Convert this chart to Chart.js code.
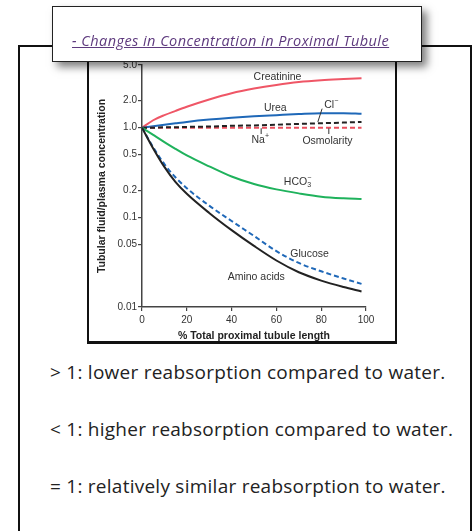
<!DOCTYPE html>
<html>
<head>
<meta charset="utf-8">
<script src="https://cdn.jsdelivr.net/npm/chart.js@4.4.0/dist/chart.umd.min.js"></script>
<style>
  html, body { margin: 0; padding: 0; background: #fff; width: 476px; height: 531px; overflow: hidden; }
  body { position: relative; }
  #outer { position: absolute; left: 18px; top: 45px; width: 454px; height: 700px; border: 2px solid #111; box-sizing: border-box; }
  #frame { position: absolute; left: 87px; top: 50px; width: 310px; height: 294px; border: 2px solid #111; border-bottom-width: 3px; box-sizing: border-box; background: #fff; }
  #chartWrap { position: absolute; left: 89px; top: 42px; width: 305px; height: 299px; }
  #card { position: absolute; left: 52px; top: 6px; width: 370px; height: 56px; border: 1.5px solid #222; box-sizing: border-box; background: #fff; box-shadow: 5px 5px 8px rgba(0,0,0,0.5); }
  #card span { position: absolute; left: 19px; top: 25px; font: italic 14.5px "Open Sans"; letter-spacing: 0.45px; color: #5e3a7e; text-decoration: underline; white-space: nowrap; line-height: 18px; }
  .note { position: absolute; left: 50px; font: 19px "Open Sans"; letter-spacing: 0.25px; color: #222; white-space: nowrap; line-height: 22px; }
</style>
</head>
<body>
<div id="outer"></div>
<div id="frame"></div>
<div id="chartWrap"><canvas id="tubuleChart" width="305" height="299"></canvas></div>
<div id="card"><span>- Changes in Concentration in Proximal Tubule</span></div>
<div class="note" style="top:361px">&gt; 1: lower reabsorption compared to water.</div>
<div class="note" style="top:418px">&lt; 1: higher reabsorption compared to water.</div>
<div class="note" style="top:475px">= 1: relatively similar reabsorption to water.</div>

<script>
// % of total proximal tubule length
const pct = [0, 5, 10, 15, 20, 30, 40, 50, 60, 70, 80, 90, 98];

// tubular fluid / plasma concentration ratios
const creatinine = [1.0, 1.21, 1.38, 1.54, 1.71, 2.06, 2.42, 2.73, 3.0, 3.23, 3.38, 3.48, 3.55];
const urea       = [1.0, 1.04, 1.08, 1.12, 1.16, 1.23, 1.29, 1.34, 1.38, 1.42, 1.45, 1.45, 1.43];
const chloride   = [1.0, 1.0, 1.01, 1.01, 1.02, 1.03, 1.05, 1.06, 1.08, 1.10, 1.12, 1.14, 1.16];
const sodiumOsm  = [1.0, 1.0, 1.0, 1.0, 1.0, 1.0, 1.0, 1.0, 1.0, 1.0, 1.0, 1.0, 1.0];
const bicarb     = [1.0, 0.83, 0.69, 0.58, 0.49, 0.37, 0.285, 0.235, 0.205, 0.185, 0.17, 0.163, 0.16];
const glucose    = [1.0, 0.604, 0.392, 0.278, 0.211, 0.135, 0.091, 0.062, 0.042, 0.031, 0.025, 0.0208, 0.0181];
const aminoAcids = [1.0, 0.587, 0.365, 0.247, 0.183, 0.112, 0.072, 0.048, 0.033, 0.0244, 0.0197, 0.0167, 0.0149];

// axis ticks
const yTicks = [0.01, 0.05, 0.1, 0.2, 0.5, 1, 2, 5];
const yTickLabels = ['0.01', '0.05', '0.1', '0.2', '0.5', '1.0', '2.0', '5.0'];
const xTicks = [0, 20, 40, 60, 80, 100];

// curve labels (in data coordinates)
const curveLabels = [
    { parts: [['Creatinine']], x: 60.5, y: 3.71 },
    { parts: [['Urea']], x: 59.5, y: 1.67 },
    { parts: [['Cl'], ['\u2212', 'sup']], x: 84.5, y: 1.77 },
    { parts: [['Na'], ['+', 'sup']], x: 52.8, y: 0.72 },
    { parts: [['Osmolarity']], x: 82.8, y: 0.70 },
    { parts: [['HCO'], ['3', 'sub'], ['\u2212', 'sup']], x: 69.4, y: 0.25 },
    { parts: [['Glucose']], x: 74.8, y: 0.039 },
    { parts: [['Amino acids']], x: 51, y: 0.0218 }
];
const leaders = [
    [80.4, 1.63, 78.5, 1.158],
    [53.2, 0.985, 53.2, 0.85],
    [83.4, 0.985, 83.4, 0.85]
];

function series(values) {
    return pct.map((x, i) => ({ x: x, y: values[i] }));
}

function line(data, color, dash) {
    return {
        data: series(data),
        borderColor: color,
        borderWidth: 2,
        borderDash: dash || [],
        pointRadius: 0,
        fill: false,
        cubicInterpolationMode: 'monotone'
    };
}

const FONT = '"Liberation Sans", Arial, sans-serif';

// draws the text labels and leader lines on the plot
const labelPlugin = {
    id: 'curveLabels',
    afterDatasetsDraw(chart) {
        const ctx = chart.ctx;
        const xs = chart.scales.x, ys = chart.scales.y;
        ctx.save();
        ctx.strokeStyle = '#333';
        ctx.lineWidth = 1;
        leaders.forEach(l => {
            ctx.beginPath();
            ctx.moveTo(xs.getPixelForValue(l[0]), ys.getPixelForValue(l[1]));
            ctx.lineTo(xs.getPixelForValue(l[2]), ys.getPixelForValue(l[3]));
            ctx.stroke();
        });
        ctx.fillStyle = '#333';
        ctx.textBaseline = 'middle';
        ctx.textAlign = 'left';
        curveLabels.forEach(lab => {
            const cx = xs.getPixelForValue(lab.x);
            const cy = ys.getPixelForValue(lab.y);
            const hasSub = lab.parts.some(q => q[1] === 'sub');
            let w = 0;
            lab.parts.forEach(p => {
                ctx.font = (p[1] ? '7px ' : '10.5px ') + FONT;
                p.w = ctx.measureText(p[0]).width;
                if (!(p[1] === 'sup' && hasSub)) w += p.w;
            });
            let px = cx - w / 2;
            let subW = 0;
            lab.parts.forEach(p => {
                ctx.font = (p[1] ? '7px ' : '10.5px ') + FONT;
                let dy = 0;
                if (p[1] === 'sup') dy = -4;
                if (p[1] === 'sub') dy = 3.5;
                let x0 = px;
                if (p[1] === 'sup' && subW) x0 = px - subW;
                ctx.fillText(p[0], x0, cy + dy);
                if (p[1] === 'sub') { subW = p.w; px += p.w; }
                else if (!(p[1] === 'sup' && subW)) px += p.w;
            });
        });
        ctx.restore();
    }
};

const tickFont = { family: FONT, size: 10 };
const titleFont = { family: FONT, size: 10.5, weight: 'bold' };

new Chart(document.getElementById('tubuleChart'), {
    type: 'line',
    data: {
        datasets: [
            line(aminoAcids, '#222222'),
            line(glucose, '#1f68b8', [5, 3]),
            line(bicarb, '#1fb25c'),
            line(chloride, '#222222', [5, 3]),
            line(sodiumOsm, '#ea4f5d', [5, 3]),
            line(urea, '#1f68b8'),
            line(creatinine, '#ef5666')
        ]
    },
    options: {
        responsive: false,
        animation: false,
        layout: { padding: { top: 23, right: 28, left: 0, bottom: 0 } },
        plugins: {
            legend: { display: false },
            tooltip: { enabled: false }
        },
        scales: {
            x: {
                type: 'linear',
                min: 0,
                max: 100,
                afterBuildTicks: s => { s.ticks = xTicks.map(v => ({ value: v })); },
                afterFit: s => { s.height = 34; },
                grid: { drawOnChartArea: false, color: '#444', tickLength: 4, lineWidth: 1.2 },
                border: { color: '#444', width: 1.5 },
                ticks: { color: '#333', font: tickFont, padding: 3, maxRotation: 0 },
                title: { display: true, text: '% Total proximal tubule length', color: '#222', font: titleFont, padding: { top: 1, bottom: -1 } }
            },
            y: {
                type: 'logarithmic',
                min: 0.01,
                max: 5,
                afterBuildTicks: s => { s.ticks = yTicks.map(v => ({ value: v })); },
                afterFit: s => { s.width = 53; },
                grid: { drawOnChartArea: false, color: '#444', tickLength: 4, lineWidth: 1.2 },
                border: { color: '#444', width: 1.5 },
                ticks: {
                    color: '#333',
                    font: tickFont,
                    padding: 1,
                    autoSkip: false,
                    callback: v => yTickLabels[yTicks.indexOf(v)]
                },
                title: { display: true, text: 'Tubular fluid/plasma concentration', color: '#222', font: titleFont, padding: { top: 7, bottom: 0 } }
            }
        }
    },
    plugins: [labelPlugin]
});
</script>
</body>
</html>
